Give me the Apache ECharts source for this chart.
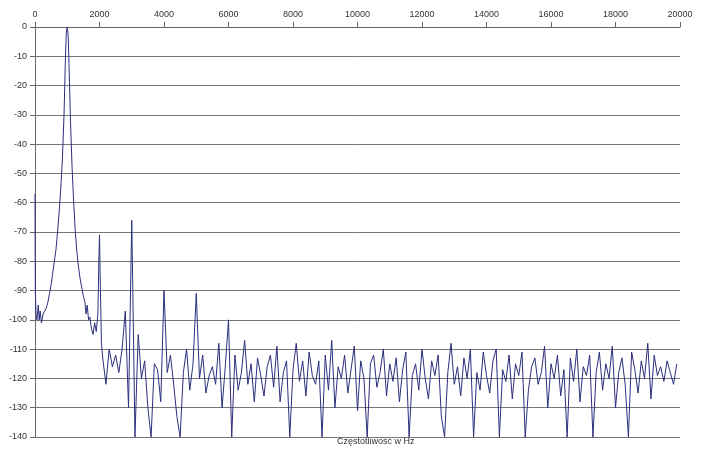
<!DOCTYPE html>
<html><head><meta charset="utf-8">
<script src="https://cdn.jsdelivr.net/npm/echarts@6/dist/echarts.min.js"></script>
<style>html,body{margin:0;background:#fff}#c{width:705px;height:451px}</style>
</head><body><div id="c"></div>
<script>
// low-frequency part: [Hz, dB]
const lowPart = [
  [0,-57],[10,-90],[30,-98],[60,-100],[100,-95],[130,-100],[160,-97],[200,-101],[250,-98],
  [300,-97],[350,-96],[400,-94],[450,-91],[500,-88],[550,-84],[600,-80],[650,-76],[700,-70],
  [750,-63],[800,-55],[850,-45],[900,-30],[940,-12],[970,-2],[1000,0],[1030,-3],[1060,-15],
  [1100,-32],[1150,-48],[1200,-60],[1250,-70],[1300,-77],[1350,-82],[1400,-86],[1450,-89],
  [1500,-92],[1550,-94],[1580,-98],[1620,-95],[1660,-100],[1700,-99],[1750,-103],[1800,-105],
  [1850,-101],[1900,-104],[1950,-98],[1980,-80],[2000,-71],[2020,-85],[2060,-108]
];
// noise floor, every 100 Hz from 2100 Hz
const noiseStart = 2100;
const noiseStep = 100;
const noise = [
  -113,-122,-110,-116,-112,-118,-110,-97,-130,-66,-140,-105,-120,-114,-130,-140,-115,-117,-128,-90,
  -118,-112,-122,-133,-140,-118,-110,-124,-115,-91,-120,-112,-125,-119,-116,-122,-108,-130,-116,-100,
  -140,-112,-124,-118,-107,-122,-115,-128,-113,-119,-126,-116,-112,-123,-109,-128,-118,-114,-140,-117,
  -108,-121,-114,-126,-111,-119,-122,-114,-140,-112,-124,-107,-130,-116,-120,-112,-125,-117,-109,-131,
  -114,-120,-140,-115,-112,-123,-118,-110,-126,-115,-121,-113,-128,-117,-111,-140,-119,-115,-124,-110,
  -120,-127,-114,-119,-112,-133,-140,-118,-108,-122,-116,-126,-113,-120,-110,-140,-118,-124,-111,-119,
  -125,-114,-110,-140,-117,-121,-112,-127,-115,-119,-111,-140,-124,-116,-113,-122,-118,-109,-130,-115,
  -120,-112,-126,-117,-140,-113,-121,-110,-128,-116,-119,-112,-140,-118,-111,-124,-115,-120,-109,-130,
  -118,-113,-122,-140,-111,-117,-125,-114,-120,-108,-127,-112,-119,-116,-121,-114,-118,-122,-115
];

const data = lowPart.concat(noise.map((v, i) => [noiseStart + i * noiseStep, v]));

const chart = echarts.init(document.getElementById('c'));
chart.setOption({
  animation: false,
  backgroundColor: '#fff',
  grid: { left: 35, right: 25, top: 27, bottom: 14, containLabel: false, outerBoundsMode: 'none' },
  xAxis: {
    type: 'value', position: 'top', min: 0, max: 20000, interval: 2000,
    axisLine: { show: true, lineStyle: { color: '#666' } },
    axisTick: { show: true, lineStyle: { color: '#666' } },
    axisLabel: { color: '#333', fontSize: 9, fontFamily: 'Liberation Sans', formatter: (v) => String(v) },
    splitLine: { show: false }
  },
  yAxis: {
    type: 'value', min: -140, max: 0, interval: 10,
    name: 'Amplituda w dB', nameLocation: 'middle', nameGap: 23, nameRotate: 90,
    nameTextStyle: { color: '#333', fontSize: 9, fontFamily: 'Liberation Sans' },
    axisLine: { show: true, lineStyle: { color: '#666' } },
    axisTick: { show: true, lineStyle: { color: '#666' } },
    axisLabel: { color: '#333', fontSize: 9, fontFamily: 'Liberation Sans' },
    splitLine: { lineStyle: { color: '#777', width: 1 } }
  },
  graphic: [{
    type: 'text', left: 337, top: 437,
    style: { text: 'Częstotliwość w Hz', fill: '#333', font: '9px Liberation Sans' }
  }],
  series: [{
    type: 'line', data: data, showSymbol: false,
    lineStyle: { color: '#2b2f7c', width: 1 }
  }]
});
</script></body></html>
